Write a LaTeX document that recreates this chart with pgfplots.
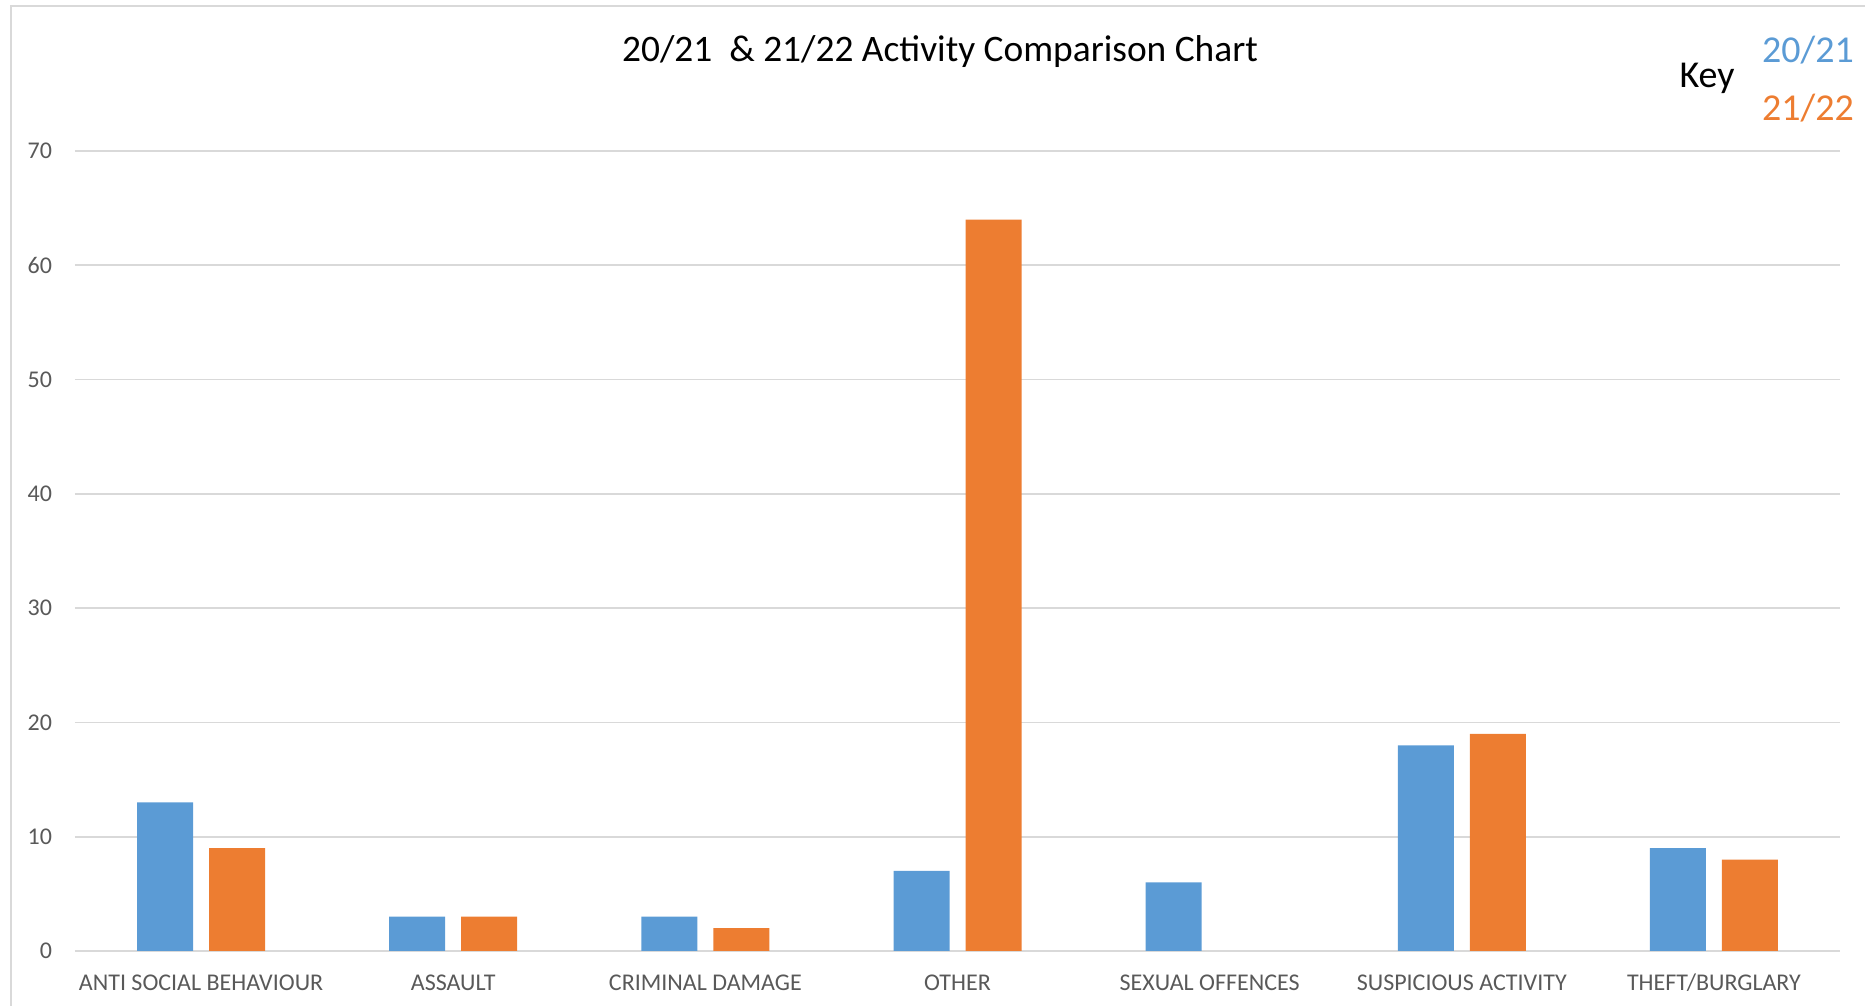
\documentclass[border=0pt]{standalone}
\usepackage{fontspec}
\setmainfont{Carlito}
\usepackage{pgfplots}
\pgfplotsset{compat=1.18}
\definecolor{cblue}{HTML}{5B9BD5}
\definecolor{corange}{HTML}{ED7D31}
\definecolor{cgrid}{HTML}{D9D9D9}
\definecolor{ctext}{HTML}{595959}
\begin{document}
\begin{tikzpicture}
\useasboundingbox (0,0) rectangle (932.5pt,503pt);
\draw[cgrid, line width=0.8pt] (5.5pt,0) -- (5.5pt,500pt) -- (932.5pt,500pt);
\begin{axis}[
  at={(37.5pt,27.5pt)}, anchor=south west,
  scale only axis, width=882.5pt, height=400pt,
  xmin=-0.5, xmax=6.5, ymin=0, ymax=70,
  ybar, bar width=28pt,
  axis line style={draw=none},
  ymajorgrids, grid style={cgrid, line width=0.8pt},
  ytick={0,10,...,70},
  xtick={0,1,2,3,4,5,6},
  xticklabels={ANTI SOCIAL BEHAVIOUR, ASSAULT, CRIMINAL DAMAGE, OTHER, SEXUAL OFFENCES, SUSPICIOUS ACTIVITY, THEFT/BURGLARY},
  major tick length=0pt,
  /pgf/number format/assume math mode=true,
  tick label style={font=\fontsize{12}{14}\selectfont, text=ctext},
  yticklabel style={xshift=-8pt},
  xticklabel style={yshift=-7pt, text height=9pt, text depth=2pt},
  clip=false,
]
\addplot[fill=cblue, draw=none, bar shift=-18pt] coordinates {(0,13) (1,3) (2,3) (3,7) (4,6) (5,18) (6,9)};
\addplot[fill=corange, draw=none, bar shift=18pt] coordinates {(0,9) (1,3) (2,2) (3,64) (5,19) (6,8)};
\end{axis}
\node[font=\fontsize{18.7}{22}\selectfont] at (470pt,477pt) {20/21\ \ \& 21/22 Activity Comparison Chart};
\node[font=\fontsize{19}{22}\selectfont] at (853.5pt,464pt) {Key};
\node[font=\fontsize{19}{22}\selectfont, text=cblue] at (904pt,478pt) {20/21};
\node[font=\fontsize{19}{22}\selectfont, text=corange] at (904pt,449pt) {21/22};
\end{tikzpicture}
\end{document}
